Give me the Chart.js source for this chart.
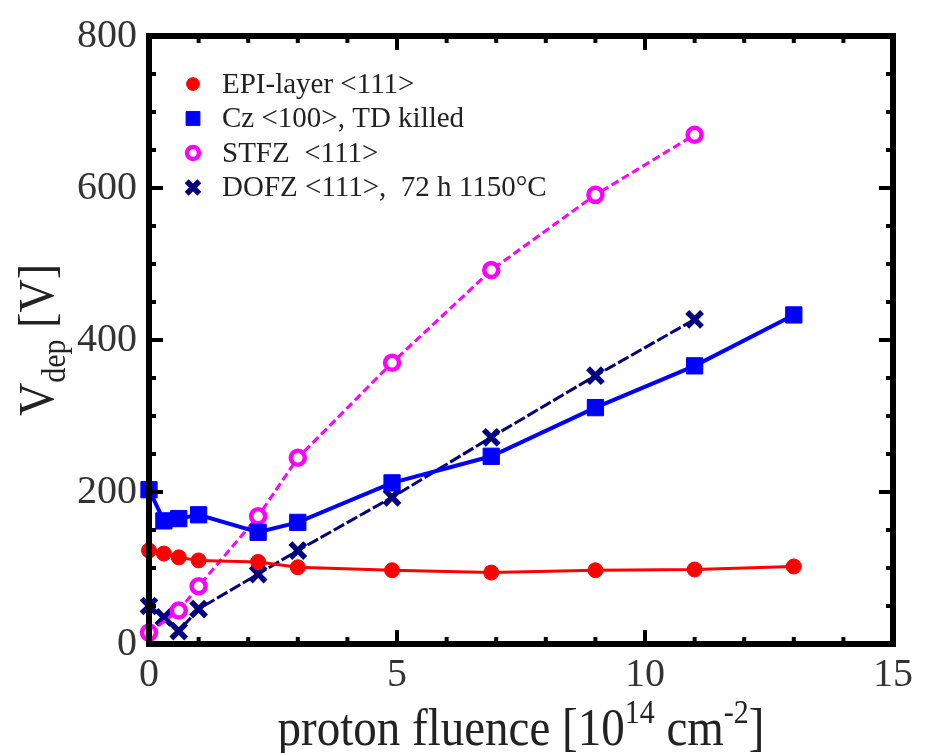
<!DOCTYPE html>
<html>
<head>
<meta charset="utf-8">
<script src="https://cdn.jsdelivr.net/npm/chart.js"></script>
<style>
  html, body { margin: 0; padding: 0; background: #fff; }
  #wrap { width: 926px; height: 753px; position: relative; }
</style>
</head>
<body>
<div id="wrap"><canvas id="vdep"></canvas></div>
<script>
// proton fluence [1e14 cm^-2] and depletion voltage [V]
const epiFluence = [0, 0.3, 0.6, 1, 2.2, 3, 4.9, 6.9, 9, 11, 13];
const epiVdep = [123, 119, 114, 110, 108, 101, 97, 94, 97, 98, 102];

const czFluence = [0, 0.3, 0.6, 1, 2.2, 3, 4.9, 6.9, 9, 11, 13];
const czVdep = [203, 162, 165, 170, 147, 160, 212, 247, 311, 366, 433];

const stfzFluence = [0, 0.6, 1, 2.2, 3, 4.9, 6.9, 9, 11];
const stfzVdep = [15, 44, 76, 168, 245, 370, 492, 591, 670];

const dofzFluence = [0, 0.3, 0.6, 1, 2.2, 3, 4.9, 6.9, 9, 11];
const dofzVdep = [50, 35, 17, 46, 92, 123, 193, 272, 353, 427];

const labels = ['EPI-layer <111>', 'Cz <100>, TD killed', 'STFZ  <111>', 'DOFZ <111>,  72 h 1150°C'];

const xTicks = { min: 0, max: 15, step: 5, minor: 1 };
const yTicks = { min: 0, max: 800, step: 200, minor: 50 };

const serif = '"Liberation Serif", "Times New Roman", serif';
const pts = (xs, ys) => xs.map((x, i) => ({ x, y: ys[i] }));

// frame with inward ticks on all four sides
const frame = {
  id: 'frame',
  afterDraw(chart) {
    const { ctx, chartArea: a, scales: { x, y } } = chart;
    ctx.save();
    ctx.strokeStyle = '#000';
    ctx.setLineDash([]);
    const seg = (x1, y1, x2, y2) => { ctx.beginPath(); ctx.moveTo(x1, y1); ctx.lineTo(x2, y2); ctx.stroke(); };
    ctx.lineWidth = 4;
    for (let v = xTicks.min; v <= xTicks.max; v += xTicks.minor) {
      const px = x.getPixelForValue(v);
      const len = v % xTicks.step ? 7 : 14;
      seg(px, a.bottom, px, a.bottom - len);
      seg(px, a.top, px, a.top + len);
    }
    for (let v = yTicks.min; v <= yTicks.max; v += yTicks.minor) {
      const py = y.getPixelForValue(v);
      const len = v % yTicks.step ? 7 : 14;
      seg(a.left, py, a.left + len, py);
      seg(a.right, py, a.right - len, py);
    }
    ctx.lineWidth = 6;
    ctx.strokeRect(a.left, a.top, a.right - a.left, a.bottom - a.top);
    ctx.restore();
  }
};

// axis titles with sub/superscripts
const titles = {
  id: 'titles',
  afterDraw(chart) {
    const { ctx, chartArea: a } = chart;
    ctx.save();
    ctx.fillStyle = '#222';
    ctx.textBaseline = 'alphabetic';
    ctx.textAlign = 'left';

    const big = `47px ${serif}`, small = `30px ${serif}`;
    const parts = [
      ['proton fluence [10', big, 0], ['14', small, -20], [' cm', big, 0], ['-2', small, -20], [']', big, 0]
    ];
    let total = 0;
    parts.forEach(p => { ctx.font = p[1]; total += ctx.measureText(p[0]).width; });
    let cx = (a.left + a.right) / 2 - total / 2;
    ctx.save();
    ctx.translate(0, 745);
    ctx.scale(1, 1.12);
    parts.forEach(p => { ctx.font = p[1]; ctx.fillText(p[0], cx, p[2]); cx += ctx.measureText(p[0]).width; });
    ctx.restore();

    const ybig = `46px ${serif}`;
    const yparts = [['V', ybig, 0], ['dep', small, 11], [' [V]', ybig, 0]];
    total = 0;
    yparts.forEach(p => { ctx.font = p[1]; total += ctx.measureText(p[0]).width; });
    ctx.translate(53, (a.top + a.bottom) / 2);
    ctx.rotate(-Math.PI / 2);
    ctx.scale(1, 1.12);
    let cy = -total / 2;
    yparts.forEach(p => { ctx.font = p[1]; ctx.fillText(p[0], cy, p[2]); cy += ctx.measureText(p[0]).width; });
    ctx.restore();
  }
};

// legend inside the plot, top left
const insideLegend = {
  id: 'insideLegend',
  afterDraw(chart) {
    const { ctx, chartArea: a } = chart;
    ctx.save();
    ctx.font = `29px ${serif}`;
    ctx.textBaseline = 'middle';
    chart.data.datasets.forEach((ds, i) => {
      const cy = a.top + 48 + i * 34.5;
      ctx.setLineDash([]);
      ctx.fillStyle = ds.pointBackgroundColor;
      ctx.strokeStyle = ds.pointBorderColor;
      ctx.lineWidth = ds.pointBorderWidth;
      Chart.helpers.drawPoint(ctx, {
        pointStyle: ds.pointStyle, radius: ds.pointRadius * 0.85, rotation: 0, borderWidth: ds.pointBorderWidth
      }, a.left + 44, cy);
      ctx.fillStyle = '#222';
      ctx.fillText(ds.label, a.left + 73, cy + 1);
    });
    ctx.restore();
  }
};

const series = (label, xs, ys, color, style, extra) => Object.assign({
  label,
  data: pts(xs, ys),
  showLine: true,
  borderColor: color,
  pointBorderColor: color,
  pointBackgroundColor: color,
  pointStyle: style,
  clip: false,
}, extra);

new Chart(document.getElementById('vdep'), {
  type: 'scatter',
  data: {
    datasets: [
      series(labels[0], epiFluence, epiVdep, '#ff0000', 'circle', { borderWidth: 3, pointRadius: 7.5, pointBorderWidth: 1 }),
      series(labels[1], czFluence, czVdep, '#0000ff', 'rect', { borderWidth: 4, pointRadius: 11.5, pointBorderWidth: 1 }),
      series(labels[2], stfzFluence, stfzVdep, '#ff00ff', 'circle', {
        borderWidth: 3, borderDash: [8, 4], pointRadius: 7, pointBorderWidth: 4.5, pointBackgroundColor: '#fff'
      }),
      series(labels[3], dofzFluence, dofzVdep, '#000080', 'crossRot', {
        borderWidth: 3, borderDash: [12, 3], pointRadius: 10.5, pointBorderWidth: 5.5
      }),
    ],
  },
  options: {
    responsive: true,
    maintainAspectRatio: false,
    animation: false,
    layout: { padding: { top: 30, right: 33, left: 0, bottom: 0 } },
    plugins: { legend: { display: false }, tooltip: { enabled: false } },
    scales: {
      x: {
        type: 'linear',
        min: xTicks.min, max: xTicks.max,
        ticks: { stepSize: xTicks.step, color: '#333', padding: 7, font: { family: serif, size: 40 } },
        grid: { display: false, drawTicks: false },
        border: { display: false },
        afterFit: s => { s.height = 109; },
      },
      y: {
        min: yTicks.min, max: yTicks.max,
        ticks: { stepSize: yTicks.step, color: '#333', padding: 12, font: { family: serif, size: 40 } },
        grid: { display: false, drawTicks: false },
        border: { display: false },
        afterFit: s => { s.width = 149; },
      },
    },
  },
  plugins: [frame, titles, insideLegend],
});
</script>
</body>
</html>
